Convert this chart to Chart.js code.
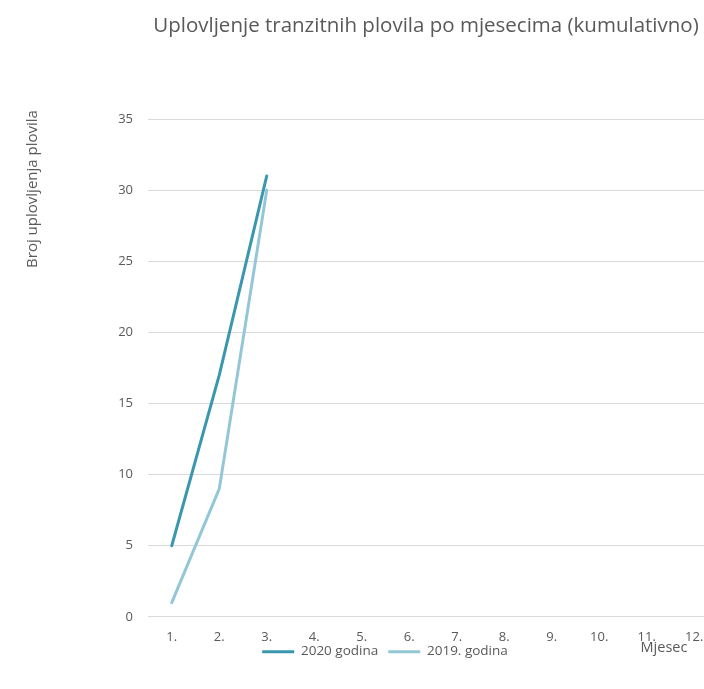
<!DOCTYPE html>
<html><head><meta charset="utf-8">
<script src="https://cdn.jsdelivr.net/npm/chart.js@4.4.1/dist/chart.umd.min.js"></script>
<style>
html,body{margin:0;padding:0;background:#fff;overflow:hidden;width:704px;height:689px}
#wrap{position:relative;width:720px;height:689px}
</style></head><body>
<div id="wrap"><canvas id="c" width="720" height="689"></canvas></div>
<script>
const TITLE = 'Uplovljenje tranzitnih plovila po mjesecima (kumulativno)';
const Y_TITLE = 'Broj uplovljenja plovila';
const X_TITLE = 'Mjesec';
const CATEGORIES = ['1.','2.','3.','4.','5.','6.','7.','8.','9.','10.','11.','12.'];
const SERIES_NAMES = ['2020 godina','2019. godina'];
const SERIES_2020 = [5, 17, 31];
const SERIES_2019 = [1, 9, 30];
const Y_MIN = 0, Y_MAX = 35, Y_STEP = 5;

const GRAY = '#595959';
const FONT = '"Open Sans", Lato, sans-serif';

const customText = {
  id: 'customText',
  afterLayout(chart) {
    const lg = chart.legend;
    if (lg) {
      const dx = 385 - (lg.left + lg.right) / 2; lg.left += dx; lg.right += dx;
      const itemH = 13.5 * 1.2;
      const dy = (653 - 10 - itemH / 2) - lg.top; lg.top += dy; lg.bottom += dy;
    }
  },
  afterDraw(chart) {
    const c = chart.ctx;
    c.save();
    c.fillStyle = GRAY;
    c.textAlign = 'center';
    c.textBaseline = 'alphabetic';
    c.font = '20.5px ' + FONT;
    c.fillText(TITLE, 426, 32);
    c.textBaseline = 'middle';
    c.font = '14.5px ' + FONT;
    c.fillText(X_TITLE, 664, 648);
    c.translate(33, 189);
    c.rotate(-Math.PI / 2);
    c.font = '15px ' + FONT;
    c.fillText(Y_TITLE, 0, 0);
    c.restore();
  }
};

new Chart(document.getElementById('c'), {
  type: 'line',
  data: {
    labels: CATEGORIES,
    datasets: [
      { label: SERIES_NAMES[0], data: SERIES_2020, borderColor: '#3a97af', backgroundColor: '#3a97af',
        borderWidth: 3, pointRadius: 0, borderCapStyle: 'round', tension: 0 },
      { label: SERIES_NAMES[1], data: SERIES_2019, borderColor: '#93c6d6', backgroundColor: '#93c6d6',
        borderWidth: 3, pointRadius: 0, borderCapStyle: 'round', tension: 0 }
    ]
  },
  plugins: [customText],
  options: {
    responsive: false,
    animation: false,
    layout: { padding: { top: 119, right: 2, left: 0, bottom: 5 } },
    plugins: {
      title: { display: false },
      tooltip: { enabled: false },
      legend: {
        position: 'bottom',
        labels: { usePointStyle: true, pointStyle: 'line', pointStyleWidth: 32, padding: 10,
          color: GRAY, font: { family: FONT, size: 13.5 } }
      }
    },
    scales: {
      x: {
        offset: true,
        grid: { display: false },
        border: { display: false },
        ticks: { color: GRAY, font: { family: FONT, size: 13 }, padding: 5, maxRotation: 0, autoSkip: false }
      },
      y: {
        min: Y_MIN, max: Y_MAX,
        grid: { color: '#d9d9d9', drawTicks: false, lineWidth: 1 },
        border: { display: false },
        ticks: { stepSize: Y_STEP, color: GRAY, font: { family: FONT, size: 13 }, padding: 15 },
        afterFit(s) { s.width = 148; }
      }
    }
  }
});
</script>
</body></html>
